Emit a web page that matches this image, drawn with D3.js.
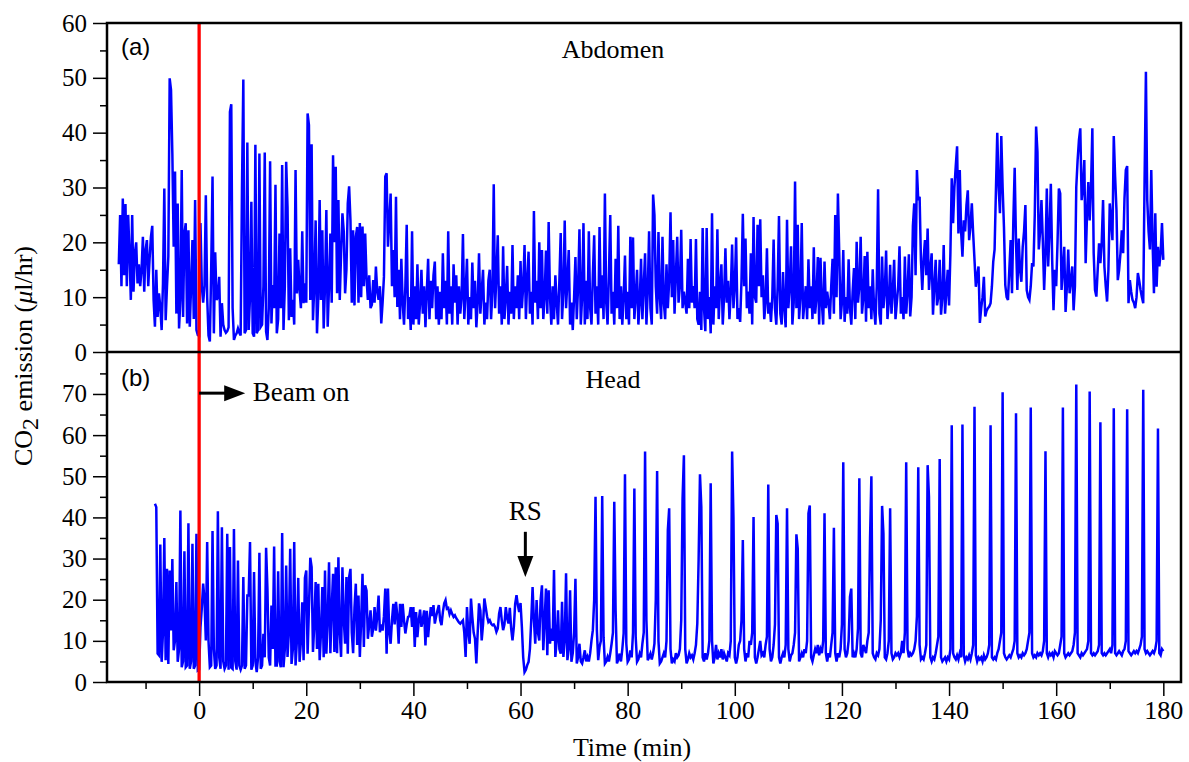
<!DOCTYPE html>
<html><head><meta charset="utf-8">
<script src="https://cdn.jsdelivr.net/npm/d3@7"></script>
<style>
html,body{margin:0;padding:0;background:#fff;}
svg{display:block;}
text{fill:#000;}
</style></head><body>
<svg id="chart" width="1189" height="762"></svg>
<script>
// ---- sampling ----
const dt = 0.25;          // minutes between samples
const rowSpan = 5;        // minutes covered by each row of values

// ---- (a) Abdomen: rows of 5 min starting at -15 min ----
const abdomenStart = -15;
const abdomenRows = [
[16,25,12,28,14,27,12,25,18,9.5,25,11,18,20,12.5,16,12,15,21,11],
[18.6,20.4,12,17,21,23,9.5,4.6,15,6.4,10.7,8.3,4,12.5,29.8,5.8,12,17.4,49.9,47.8],
[36.2,19.2,32.9,7,27.1,4.3,9.5,33.2,6.4,21.6,23.5,5.2,22.2,4.6,12,20.4,6,27.7,4,3.1],
[3,23.5,12,9,12,28.6,10,3,1.9,15,32,3.4,18.2,9.5,10,13.7,2.8,8.9,5,4],
[3.5,3.8,4.5,43.8,45.2,8,2.2,3,3.4,4.3,3.5,3,30,49.7,3.4,4,38.2,4,10,27.4],
[3.4,2.8,37.8,3.4,4,36.2,4.6,5,12,36.4,3.7,2.2,8,34.8,5.2,12.2,8,30.5,3.4,6],
[21.6,8,34.1,4,12,34.7,26.5,5.8,18.9,6.4,9.5,5,33.2,10.7,16.8,11.3,8,22,8.9,12.5],
[9,43.5,41.4,9.5,37.9,5.8,12,24,3.4,10,27.7,9.5,22.2,4.3,12,25.9,4.6,12,21.6,9],
[35.9,20,33.8,10.7,27.7,9.5,18,25.3,22,10.7,15,27.1,30.2,24,9,22.2,8.5,21,22.8,9],
[23.5,10,22.9,12,21.6,13.5,9.5,14,8,8.6,13.1,9,15.6,11,9.5,12,5.2,9,13.7,32],
[32.6,19.2,24,28.9,12,18.6,10,28.3,8.2,15,6,17,9,5,12,23.2,6,10,4,22],
[5,12,6,16,5,9,15,7,12,4.5,11,17,6,13,8,14,16.5,6,12,5],
[11,6,18,8,13,5,22,7,12,5,16,9,14,5,12,7,10,21.5,6,11],
[17,5,10,6,16.3,8,13,4.5,9,18,7,11,15,5,9,6,13,15,6,11],
[30.6,8,14,21.3,7,12,5,19.3,6,10,15.7,5,11,7,19.5,6,12,8,14,6],
[16.6,8,12,19.5,6,13,18.3,7,11,5,25.7,9,13,6,20,8,18.6,6,10,18.5],
[7,23.7,10,5,12,6,14,9,5,13,21.7,6,11,24,8,13,18.6,5,9,4],
[10,17.3,6,12,22.4,5,10,23.5,5,13,6,22,8,5,14,21.3,7,12,5,22.8],
[8,14,6,28.9,9,5,14,25,7,11,5,17,8,23,6,12,5,10,17.6,6],
[11,5,21,8,20.9,6,10,15,5,9,17,6,12,18,5,11,22,8,5,28.7],
[25,12,7,21.9,10,6,21,9,6,16,8,13,25.5,10,20.4,7,14,21,9,12],
[22.3,8,11,9,7,17,8,20.6,9,12,8,20.6,6,5,11,4,22.6,8,3.8,22.6],
[6,10,3.4,25.3,5,12,8,22.4,6,12,16,5,10,18.9,9,13,6,11,19.6,8],
[12,20.9,6,8,5.5,13,25.2,12,20.7,8,11,7,18,5,24.6,10,9,23.2,12,24.2],
[10,14,6,9,18.9,7,9,5.5,10,20.5,8,5,12,24.8,7,5,14.6,8,4.5,24.1],
[8,12,19.3,5,9,31.1,8,23.2,6,10,23.5,6,9,12,6,16.9,8,12,6,19.1],
[7,10,17.3,5,17.2,9,5,16.5,8,11,9,6,12,17,7,25,10,28.9,18,6],
[9,18.6,5.5,10,7,16.9,8,5,11,15.3,6,20.1,9,12,21,7,10,17.5,5.5,18.3],
[8,12,6,15.1,8,5,12,29.7,7,5,17.4,8,11,18.5,6,9,15.9,7,11,16.8],
[6,9,12,19.3,7,10,6,17.4,7,11,17.8,6.5,10,23,27.1,14,33.2,27.7,28.3,16.8],
[11.3,17,20.4,14,22.5,11.3,15,18,6.8,12,16.8,8.5,10,16.8,6.8,10,19.5,7,11,15],
[8.5,18,31.7,23.5,30,33.9,37.5,21.6,33.2,22,17.4,24,22,26.8,29.5,20.4,23,27.1,21.6,16.8],
[11.9,14,15.6,5.3,8,10,13.7,6.5,7.5,8,8.3,8.9,12,16.5,18.7,29.5,40,30,25.3,39.4],
[30,22.8,12.2,10,9.5,15,20.4,10.7,24,33.6,20,11.3,20.7,15,12.8,19.2,22,26.8,11.3,10],
[9.5,12,16.2,15.6,25,41.1,36.5,18.7,22,27.7,20.4,11.3,18,29.8,15.6,22,30.7,16.8,7.6,15],
[12,20,29.8,28.9,11.3,15,19.2,7.3,12,18.7,10.7,13,15.6,7.6,12,30.1,35,38.7,40.8,27.7],
[30,35,16.2,25,31,24,30,40.8,18,11.3,10.1,15,19.8,16.2,20,27.7,15.6,12,9.2,15],
[27.1,24,20.4,39.4,32,26,13.1,15,18,22.2,18,28,33.2,33.9,8.9,13.1,11,9.5,9,8],
[10,14.4,13,11.3,10,8.9,31.3,51.1,27.7,22,18.7,33.2,20,10.7,25.3,11.9,19.2,15.6,18,23.5,16.8]
];

// ---- (b) Head: rows of 5 min starting at -10 min (null = no record yet) ----
const headStart = -10;
const headRows = [
[null,null,null,null,null,null,null,43.3,42.5,6.9,6.5,33.4,4.9,12,35,5.3,27.5,4.4,27.1,12.5],
[29.9,7.7,10.1,24.3,4.9,8,41.7,3.6,5,31.8,3.6,4,38.6,3.2,5,33.6,3.2,4,36,2.8],
[3,13.3,18,23.9,20,10.1,34,10,3.6,4,36.7,8,3.2,4,41.5,6,3.2,37.6,5,3.2],
[4,36,3,32.8,3.5,3.2,37.2,5,3,29.5,4,3,4,25.5,3.2,4,21,21,34,3],
[4,26.7,5,2.4,6,31.4,3.2,4,11.7,6,32.6,22.7,6,4,18.6,8,32.9,4,4,26.9],
[5,3.6,36.2,3.6,8,28.3,6.1,12,32.4,4.4,8,34,4,10,25.3,4.9,10,19.4,5.3,25.3],
[27.1,6.9,18,30.2,27.9,7.3,14,24.3,8,23.9,5.3,12,23.1,6,27.1,6.9,15,29.1,7,18],
[26.3,7.3,27.9,7,30.3,12,6.1,27.9,15,9.3,25.5,6.9,25.5,27.5,12,7,18,23.9,9,21],
[6.1,15,26.3,8.5,23.5,22.2,10.5,14,17.4,11,13,18.2,12.5,16,21,12.1,14,12.5,16,22.7],
[6.9,22.7,12,9.3,15,19,14,19.5,16,9.3,19,13.4,19,15,11.8,14,15.8,16,18.2,13.4],
[18.2,8.5,17,10.9,15,17.6,13.4,15,17.4,8.9,17.3,10.9,15,18.2,16,18.7,14.2,16,17.4,18.7],
[15,13.8,17,19.1,19.9,17.8,18,16.5,17.4,16.5,15.8,16.2,15.5,15,14.5,14.2,14.6,15,12,6.1],
[18.2,12,9.3,20.3,15.8,12,10.5,4.5,12,19.1,17.4,10.1,14,20.3,18.2,16,14.6,15,14.2,13.8],
[14,13.4,12.2,13,16.6,18.2,15,12.6,14,18.2,15.5,14.2,18,13,10.1,13.4,19,21.1,18.7,17],
[19.2,13.4,6,2.4,3,4.1,4.9,8,15,23.1,15,9.3,19.9,12,10.1,19.9,23.5,7.7,15,22.7],
[6.5,22.3,9.3,13,10,27.2,6.1,10,17.4,8,6.9,19.5,6.1,10,26.4,5.3,8,22.3,4.9,7],
[12,25.1,4.5,6,9.3,5,4.5,6,7.7,5,6.1,5,7,10.1,12.6,20,45,12.6,5.3,8.5],
[10,45.2,10.9,4.5,5,6.1,5,7,9.3,12,43.8,17.4,4.5,5.5,6.9,5,8,11.8,50.5,9.3],
[4.9,5.5,7.7,6,12,47,10.9,4.9,5.5,6.9,6,9.3,12,56,15,5.3,6,6.9,5.5,7],
[9.3,20,51.3,10,4.5,5,6,7,6,10,36.9,42.2,8,4.5,5.5,5,7,6,6.5,8],
[15,44.6,55.1,8,4.5,5.5,7,6,6.5,5.5,7,9,14.2,30,50.5,42.6,6,5,7,5.5],
[7,10,48.3,10,4.5,6,9,5.5,7,6,8,5.5,7,6,5,7,6.5,10,56,40],
[6,4.5,6,9,10,15,34.5,8,5,7,6,10,9,12,40.1,6,4.5,6,8,10],
[6.5,7,6,9,11,48,8,5,6,9,14,40.6,38.5,6,4.5,6,7,6,9,42.2],
[8,5,6.5,7,9,12,35.9,32.4,5,6,7,6,8,7,10,41,42.9,6,5,6.5],
[8,7,9,6.5,8,7,10,41,7,5,7,6,9,12,37.5,7,5,7,6,8],
[14,53.4,8,6,7,10,20.7,22.7,6,7,6,8,13,49.5,7,6,9,8,7,10],
[12,35,50,7,6,5.5,7,6.5,8,15,42.8,36,6,5.5,7,10,42.2,7,5.5,6],
[7,6.5,7,6,7,10,7,12,53.4,8,6,7,6.5,7,8,10,16,52.2,9,5.5],
[6,5.5,7,9,52.7,45,6,5,6,5.5,7,9,11,54.2,6,5,5.5,6,5,6],
[5.5,8,62.4,7,6,5.5,6.5,5.5,7,6,62.6,6.5,5,6,5.5,6.5,5.5,7,9,66.9],
[6.5,5,6,5.5,6,5,6.5,5.5,6,7,9,62.4,6,5.5,6,5.5,7,8,10,12],
[70.4,7,6,5.5,6,6.5,6,7,8,10,65.3,7,6,6.5,6,7,6.5,7,8,10],
[12,66.7,7,6,6.5,6,7,6.5,7,6.5,7.5,10,56.1,7,6,7,6.5,7,6,7.5],
[7,6.5,7,9,11,66.7,7,6,6.5,7,6.5,7,7.5,9,12,72.3,7,6.5,6,7],
[6.5,7,7.5,8,10,70.6,7,6.5,7,6.5,7,7.5,9,63.1,7,6.5,7,6.5,7,7.5],
[8,7,9,66.5,7,6.5,7,7.5,7,6.5,7.5,8,10,66.3,7.5,7,6.5,7,7.5,7],
[7.5,7,8,9,11,71,8,7,7.5,7,6.5,7,7.5,7,8,10,61.6,7,6.5,8,7.5]
];

// ---- axes / ticks ----
const xDomain = [-17.2, 183.3];
const xMajorTicks = [0,20,40,60,80,100,120,140,160,180];
const xMinorTicks = [-10,10,30,50,70,90,110,130,150,170];
const abdDomain = [0, 60];
const abdTicks = [0,10,20,30,40,50,60];
const abdMinorTicks = [5,15,25,35,45,55];
const headDomain = [0, 80.2];
const headTicks = [0,10,20,30,40,50,60,70];
const headMinorTicks = [5,15,25,35,45,55,65,75];

// ---- annotations (data coordinates) ----
const beamOnTime = 0;
const beamArrow = {t0: 0, t1: 8.6, v: 70.2, label: "Beam on", labelT: 10, labelV: 68.2};
const rsArrow = {t: 60.9, v0: 36.5, v1: 25.5, label: "RS", labelV: 39.3};

// ---- layout ----
const SERIF = '"Liberation Serif","Times New Roman",Times,serif';
const SANS = '"Liberation Sans",Arial,Helvetica,sans-serif';
const L = 107, R = 1181, T = 23, MID = 352, B = 682;
const svg = d3.select("#chart");
svg.append("rect").attr("width",1189).attr("height",762).attr("fill","#fff");

const x = d3.scaleLinear().domain(xDomain).range([L, R]);
const yA = d3.scaleLinear().domain(abdDomain).range([MID, T]);
const yB = d3.scaleLinear().domain(headDomain).range([B, MID]);

function toPoints(start, rows){
  const pts = [];
  rows.forEach((row, r) => row.forEach((v, j) => {
    if (v != null) pts.push([start + r*rowSpan + j*dt, v]);
  }));
  return pts;
}
const abdPts = toPoints(abdomenStart, abdomenRows);
const headPts = toPoints(headStart, headRows);

const defs = svg.append("defs");
defs.append("clipPath").attr("id","clipA").append("rect").attr("x",L).attr("y",T).attr("width",R-L).attr("height",MID-T);
defs.append("clipPath").attr("id","clipB").append("rect").attr("x",L).attr("y",MID).attr("width",R-L).attr("height",B-MID);

svg.append("path").datum(abdPts)
  .attr("clip-path","url(#clipA)")
  .attr("fill","none").attr("stroke","#0000ff").attr("stroke-width",2.5)
  .attr("d", d3.line().x(d=>x(d[0])).y(d=>yA(d[1])));
svg.append("path").datum(headPts)
  .attr("clip-path","url(#clipB)")
  .attr("fill","none").attr("stroke","#0000ff").attr("stroke-width",2.5)
  .attr("d", d3.line().x(d=>x(d[0])).y(d=>yB(d[1])));

svg.append("line")
  .attr("x1",x(beamOnTime)).attr("x2",x(beamOnTime))
  .attr("y1",T).attr("y2",B)
  .attr("stroke","#ff0000").attr("stroke-width",3.3);

function styleAxis(g, fs){
  g.select(".domain").remove();
  g.selectAll(".tick line").attr("stroke","#000").attr("stroke-width",1.5);
  g.selectAll(".tick text").style("font-family",SERIF).style("font-size",fs+"px").attr("fill","#000");
}
svg.append("g").attr("transform",`translate(${L},0)`)
  .call(d3.axisLeft(yA).tickValues(abdTicks).tickSize(14).tickPadding(6).tickFormat(d3.format("d")))
  .call(g=>styleAxis(g,25));
svg.append("g").attr("transform",`translate(${L},0)`)
  .call(d3.axisLeft(yA).tickValues(abdMinorTicks).tickSize(7).tickFormat(""))
  .call(g=>styleAxis(g,25));
svg.append("g").attr("transform",`translate(${L},0)`)
  .call(d3.axisLeft(yB).tickValues(headTicks).tickSize(14).tickPadding(6).tickFormat(d3.format("d")))
  .call(g=>styleAxis(g,25));
svg.append("g").attr("transform",`translate(${L},0)`)
  .call(d3.axisLeft(yB).tickValues(headMinorTicks).tickSize(7).tickFormat(""))
  .call(g=>styleAxis(g,25));
svg.append("g").attr("transform",`translate(0,${B})`)
  .call(d3.axisBottom(x).tickValues(xMajorTicks).tickSize(14).tickPadding(5).tickFormat(d3.format("d")))
  .call(g=>styleAxis(g,26));
svg.append("g").attr("transform",`translate(0,${B})`)
  .call(d3.axisBottom(x).tickValues(xMinorTicks).tickSize(7).tickFormat(""))
  .call(g=>styleAxis(g,26));

svg.append("rect").attr("x",L).attr("y",T).attr("width",R-L).attr("height",B-T)
  .attr("fill","none").attr("stroke","#000").attr("stroke-width",2.5);
svg.append("line").attr("x1",L).attr("x2",R).attr("y1",MID).attr("y2",MID)
  .attr("stroke","#000").attr("stroke-width",2.5);

function label(xp, yp, txt, fs, fam, anchor){
  return svg.append("text").attr("x",xp).attr("y",yp)
    .style("font-family",fam).style("font-size",fs+"px")
    .attr("text-anchor",anchor||"start").text(txt);
}
label(121, 55, "(a)", 24, SANS);
label(121, 386, "(b)", 24, SANS);
label(613, 58, "Abdomen", 26, SERIF, "middle");
label(613, 388, "Head", 26, SERIF, "middle");

const bx0 = x(beamArrow.t0), bx1 = x(beamArrow.t1), by = yB(beamArrow.v);
svg.append("line").attr("x1",bx0).attr("x2",bx1-16).attr("y1",by).attr("y2",by)
  .attr("stroke","#000").attr("stroke-width",3);
svg.append("path").attr("d",`M${bx1},${by} L${bx1-21},${by-8} L${bx1-21},${by+8} Z`).attr("fill","#000");
label(x(beamArrow.labelT), yB(beamArrow.labelV), beamArrow.label, 27, SERIF);

const rx = x(rsArrow.t), ry0 = yB(rsArrow.v0), ry1 = yB(rsArrow.v1);
svg.append("line").attr("x1",rx).attr("x2",rx).attr("y1",ry0).attr("y2",ry1-16)
  .attr("stroke","#000").attr("stroke-width",3);
svg.append("path").attr("d",`M${rx},${ry1} L${rx-8},${ry1-21} L${rx+8},${ry1-21} Z`).attr("fill","#000");
label(rx, yB(rsArrow.labelV), rsArrow.label, 27, SERIF, "middle");

label(632, 756, "Time (min)", 26, SERIF, "middle");
const yl = svg.append("text").attr("transform","translate(32,356) rotate(-90)")
  .style("font-family",SERIF).style("font-size","26px").attr("text-anchor","middle");
yl.append("tspan").text("CO");
yl.append("tspan").attr("dy",6).style("font-size","24px").text("2");
yl.append("tspan").attr("dy",-6).text(" emission (");
yl.append("tspan").style("font-style","italic").text("\u03BC");
yl.append("tspan").text("l/hr)");
</script>
</body></html>
